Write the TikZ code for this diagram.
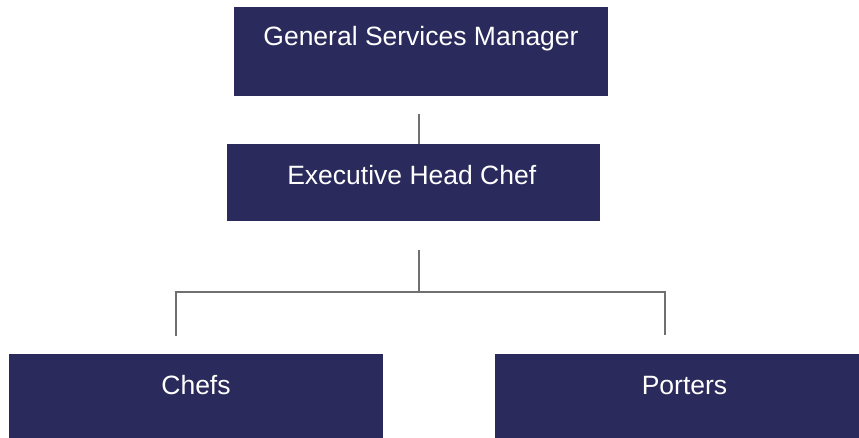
\documentclass[tikz,border=0pt]{standalone}
\usepackage{fontspec}
\setmainfont{Liberation Sans}
\usetikzlibrary{calc}
\definecolor{boxblue}{HTML}{2A2A5C}
\definecolor{linkgrey}{HTML}{707070}
\tikzset{
  rolebox/.style={fill=boxblue, draw=none, inner sep=0pt, minimum width=374pt},
  roletext/.style={text=white, anchor=base, inner sep=0pt, font=\fontsize{26.5}{30}\selectfont},
  link/.style={draw=linkgrey, line width=1.5pt}
}
\begin{document}
\begin{tikzpicture}[x=1pt, y=-1pt]
  \fill[white] (0,0) rectangle (859,438);
  \useasboundingbox (0,0) rectangle (859,438);

  % boxes
  \node[rolebox, minimum height=89pt] (gsm) at (421,51.5) {};
  \node[rolebox, minimum width=373.5pt, minimum height=77.5pt] (ehc) at (413.25,182.75) {};
  \node[rolebox, minimum height=84pt] (chefs) at (196,396) {};
  \node[rolebox, minimum height=84pt] (porters) at (682,396) {};

  % titles
  \node[roletext] (gsmt) at ($(gsm.north)+(0,38.7)$) {General Services Manager};
  \node[roletext] (ehct) at ($(ehc.north)+(-1.5,40.3)$) {Executive Head Chef};
  \node[roletext] (chefst) at ($(chefs.north)+(0,41)$) {Chefs};
  \node[roletext] (porterst) at ($(porters.north)+(2.5,41)$) {Porters};

  % reporting lines
  \coordinate (top) at (419,114);
  \coordinate (stem) at (419,250);
  \coordinate (bus) at (419,292);
  \coordinate (dropl) at (176,336);
  \coordinate (dropr) at (665,335);
  \draw[link] (top) -- (top |- ehc.north);
  \draw[link] (stem) -- (bus);
  \draw[link] (dropl) |- (bus) -| (dropr);
\end{tikzpicture}
\end{document}
